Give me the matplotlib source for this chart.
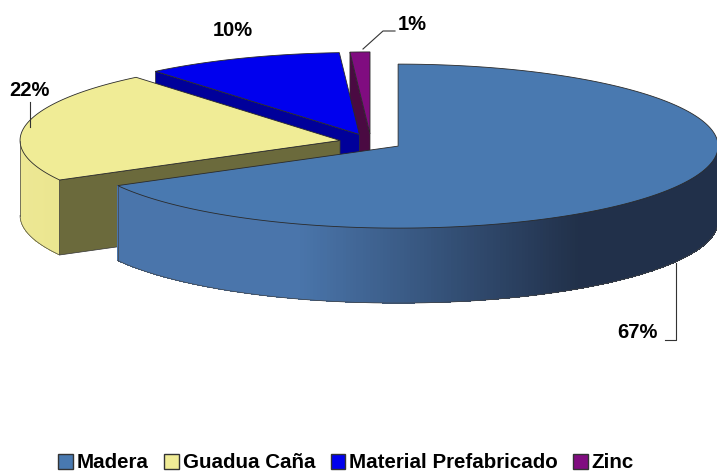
import numpy as np
import matplotlib
matplotlib.use("Agg")
import matplotlib.pyplot as plt
from matplotlib.patches import Polygon, Patch

# ---- data ----
categories = ["Madera", "Guadua Caña", "Material Prefabricado", "Zinc"]
values = [67, 22, 10, 1]
labels = ["67%", "22%", "10%", "1%"]

top_colors = ["#4979B0", "#F0EC96", "#0000EE", "#800C80"]
face_colors = ["#2A3F60", "#6B6A3C", "#00009A", "#4A0A42"]
side_light = [(0.29, 0.46, 0.67), (0.93, 0.91, 0.58), (0.0, 0.0, 0.6), (0.3, 0.0, 0.28)]
side_dark = [(0.13, 0.19, 0.29), (0.88, 0.86, 0.50), (0.0, 0.0, 0.45), (0.25, 0.0, 0.22)]

# ---- geometry (pixel space) ----
W, Hpx = 717, 472
CX, CY = 371, 142
A, B = 320, 82        # ellipse semi-axes of top face
DEPTH = 75            # thickness
EXPL = 31.5           # explode distance (in x units)

fig = plt.figure(figsize=(W / 100, Hpx / 100), dpi=100)
ax = fig.add_axes([0, 0, 1, 1])
ax.set_xlim(0, W)
ax.set_ylim(Hpx, 0)
ax.axis("off")

total = float(sum(values))
angles = []
start = 90.0
for v in values:
    sweep = v / total * 360.0
    angles.append((start - sweep, start))  # (theta1, theta2), clockwise from top
    start -= sweep


def proj(cx, cy, t_deg, z=0.0):
    t = np.radians(t_deg)
    return cx + A * np.cos(t), cy - B * np.sin(t) + z


def lerp(c1, c2, f):
    return tuple(c1[k] + (c2[k] - c1[k]) * f for k in range(3))


order = [3, 2, 1, 0]  # back to front
for i in order:
    t1, t2 = angles[i]
    mid = np.radians((t1 + t2) / 2)
    ox = CX + EXPL * np.cos(mid)
    oy = CY - EXPL * (B / A) * np.sin(mid)

    # outer curved side (front half only)
    ts = np.linspace(t1, t2, 400)
    vis = np.sin(np.radians(ts)) < 0
    ts_v = ts[vis]
    if len(ts_v) > 1:
        for k in range(len(ts_v) - 1):
            a0, a1 = ts_v[k], ts_v[min(k + 2, len(ts_v) - 1)]
            x0, y0 = proj(ox, oy, a0)
            x1, y1 = proj(ox, oy, a1)
            xm = (x0 + x1) / 2
            if i == 0:
                f = np.clip((xm - 300) / 280.0, 0, 1)
            else:
                f = np.clip((xm - 20) / 60.0, 0, 1) * 0.3
            col = lerp(side_light[i], side_dark[i], f)
            poly = Polygon([(x0, y0), (x1, y1), (x1, y1 + DEPTH), (x0, y0 + DEPTH)],
                           closed=True, facecolor=col, edgecolor="none", lw=0,
                           antialiased=False)
            ax.add_patch(poly)
        xs, ys = proj(ox, oy, ts_v)
        ax.plot(xs, ys + DEPTH, color="#444444", lw=0.5)
        ax.plot([xs[0], xs[0]], [ys[0], ys[0] + DEPTH], color="#444444", lw=0.5)

    # radial cut faces
    for tt, nrm in ((t2, t2 + 90), (t1, t1 - 90)):
        if np.sin(np.radians(nrm)) < -1e-6:
            rx, ry = proj(ox, oy, tt)
            poly = Polygon([(ox, oy), (rx, ry), (rx, ry + DEPTH), (ox, oy + DEPTH)],
                           closed=True, facecolor=face_colors[i], edgecolor="#333333", lw=0.5)
            ax.add_patch(poly)

    # top face
    xs, ys = proj(ox, oy, ts)
    pts = [(ox, oy)] + list(zip(xs, ys))
    ax.add_patch(Polygon(pts, closed=True, facecolor=top_colors[i],
                         edgecolor="#2a2a2a", lw=0.6))

# ---- labels with leader lines ----
font = dict(family=["Liberation Sans", "DejaVu Sans"], fontweight="bold", fontsize=14.5)
ax.text(637, 332, labels[0], ha="center", va="center", **font)
ax.plot([676, 676, 665], [263, 340, 340], color="#333333", lw=0.8)
ax.text(29, 91, labels[1], ha="center", va="center", **font)
ax.plot([30, 30], [102, 127], color="#333333", lw=0.8)
ax.text(233, 31, labels[2], ha="center", va="center", **font)
ax.text(412, 24, labels[3], ha="center", va="center", **font)
ax.plot([363, 383, 395], [49, 31, 31], color="#333333", lw=0.8)

# ---- legend ----
handles = [Patch(facecolor=top_colors[i], edgecolor="#333333", lw=1.0, label=categories[i])
           for i in range(len(categories))]
leg = fig.legend(handles=handles, loc="center", bbox_to_anchor=(0.483, 1 - 463 / 472),
                 ncol=4, frameon=False, handlelength=0.7, handleheight=0.7,
                 handletextpad=0.2, columnspacing=0.75,
                 prop=dict(family=["Liberation Sans", "DejaVu Sans"], weight="bold", size=14.8))

fig.savefig("out.png", dpi=100)
